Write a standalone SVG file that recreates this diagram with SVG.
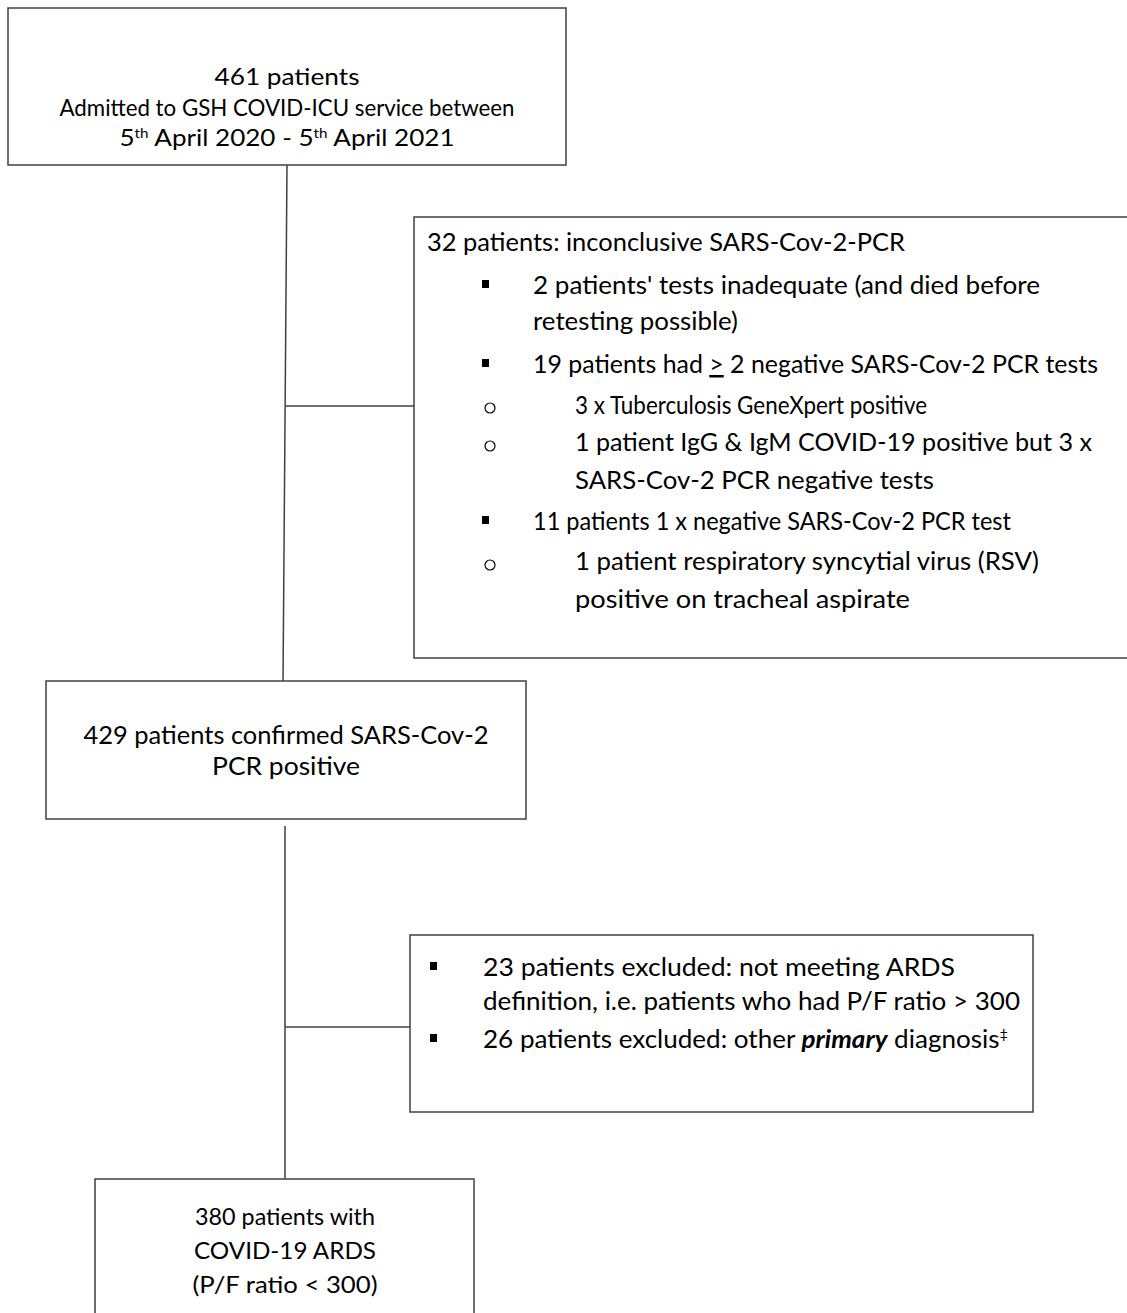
<svg xmlns="http://www.w3.org/2000/svg" width="1127" height="1313" viewBox="0 0 1127 1313">
<style>
.box{fill:#fff;stroke:#404040;stroke-width:1.5}
.ln{fill:none;stroke:#404040;stroke-width:1.5}
text{font-family:Lato,"Liberation Sans",Arial,sans-serif;font-size:25px;fill:#000}
.s{font-size:24px}
.c{text-anchor:middle}
.sq{fill:#000}
.circ{fill:none;stroke:#000;stroke-width:1.2}
</style>
<rect width="1127" height="1313" fill="#fff"/>
<g id="connectors">
<line class="ln" x1="287" y1="165" x2="283" y2="681"/>
<line class="ln" x1="285" y1="406" x2="414" y2="406"/>
<line class="ln" x1="285" y1="826" x2="285" y2="1179"/>
<line class="ln" x1="285" y1="1027" x2="410" y2="1027"/>
</g>
<g id="n1">
<rect class="box" x="8" y="8" width="558" height="157"/>
<text class="c s" x="287" y="85" textLength="145" lengthAdjust="spacingAndGlyphs">461 patients</text>
<text class="c s" x="287" y="116" textLength="455" lengthAdjust="spacingAndGlyphs">Admitted to GSH COVID-ICU service between</text>
<text class="c s" x="287" y="146" textLength="335" lengthAdjust="spacingAndGlyphs">5<tspan dy="-8" font-size="14">th</tspan><tspan dy="8"> April 2020 - 5</tspan><tspan dy="-8" font-size="14">th</tspan><tspan dy="8"> April 2021</tspan></text>
</g>
<g id="n2">
<rect class="box" x="414" y="217" width="720" height="441"/>
<text x="427" y="251" textLength="478" lengthAdjust="spacingAndGlyphs">32 patients: inconclusive SARS-Cov-2-PCR</text>
<rect class="sq" x="482" y="280" width="7" height="8"/>
<text x="533" y="294" textLength="507" lengthAdjust="spacingAndGlyphs">2 patients' tests inadequate (and died before</text>
<text x="533" y="330" textLength="205" lengthAdjust="spacingAndGlyphs">retesting possible)</text>
<rect class="sq" x="482" y="359" width="7" height="8"/>
<text x="533" y="373" textLength="565" lengthAdjust="spacingAndGlyphs">19 patients had <tspan text-decoration="underline">&gt;</tspan> 2 negative SARS-Cov-2 PCR tests</text>
<circle class="circ" cx="490" cy="408" r="5"/>
<text x="575" y="414" textLength="352" lengthAdjust="spacingAndGlyphs">3 x Tuberculosis GeneXpert positive</text>
<circle class="circ" cx="490" cy="446" r="5"/>
<text x="575" y="451" textLength="517" lengthAdjust="spacingAndGlyphs">1 patient IgG &amp; IgM COVID-19 positive but 3 x</text>
<text x="575" y="489" textLength="359" lengthAdjust="spacingAndGlyphs">SARS-Cov-2 PCR negative tests</text>
<rect class="sq" x="482" y="516" width="7" height="8"/>
<text x="533" y="530" textLength="478" lengthAdjust="spacingAndGlyphs">11 patients 1 x negative SARS-Cov-2 PCR test</text>
<circle class="circ" cx="490" cy="565" r="5"/>
<text x="575" y="570" textLength="464" lengthAdjust="spacingAndGlyphs">1 patient respiratory syncytial virus (RSV)</text>
<text x="575" y="608" textLength="335" lengthAdjust="spacingAndGlyphs">positive on tracheal aspirate</text>
</g>
<g id="n3">
<rect class="box" x="46" y="681" width="480" height="138"/>
<text class="c" x="286" y="744" textLength="405" lengthAdjust="spacingAndGlyphs">429 patients confirmed SARS-Cov-2</text>
<text class="c" x="286" y="775" textLength="148" lengthAdjust="spacingAndGlyphs">PCR positive</text>
</g>
<g id="n4">
<rect class="box" x="410" y="935" width="623" height="177"/>
<rect class="sq" x="430" y="962" width="7" height="8"/>
<text x="483" y="976" textLength="472" lengthAdjust="spacingAndGlyphs">23 patients excluded: not meeting ARDS</text>
<text x="483" y="1010" textLength="537" lengthAdjust="spacingAndGlyphs">definition, i.e. patients who had P/F ratio &gt; 300</text>
<rect class="sq" x="430" y="1034" width="7" height="8"/>
<text x="483" y="1048" textLength="525" lengthAdjust="spacingAndGlyphs">26 patients excluded: other <tspan font-weight="bold" font-style="italic">primary</tspan> diagnosis<tspan dy="-9" font-size="14">‡</tspan></text>
</g>
<g id="n5">
<rect class="box" x="95" y="1179" width="379" height="150"/>
<text class="c s" x="285" y="1225" textLength="180" lengthAdjust="spacingAndGlyphs">380 patients with</text>
<text class="c s" x="285" y="1259" textLength="182" lengthAdjust="spacingAndGlyphs">COVID-19 ARDS</text>
<text class="c s" x="285" y="1293" textLength="185" lengthAdjust="spacingAndGlyphs">(P/F ratio &lt; 300)</text>
</g>
</svg>
